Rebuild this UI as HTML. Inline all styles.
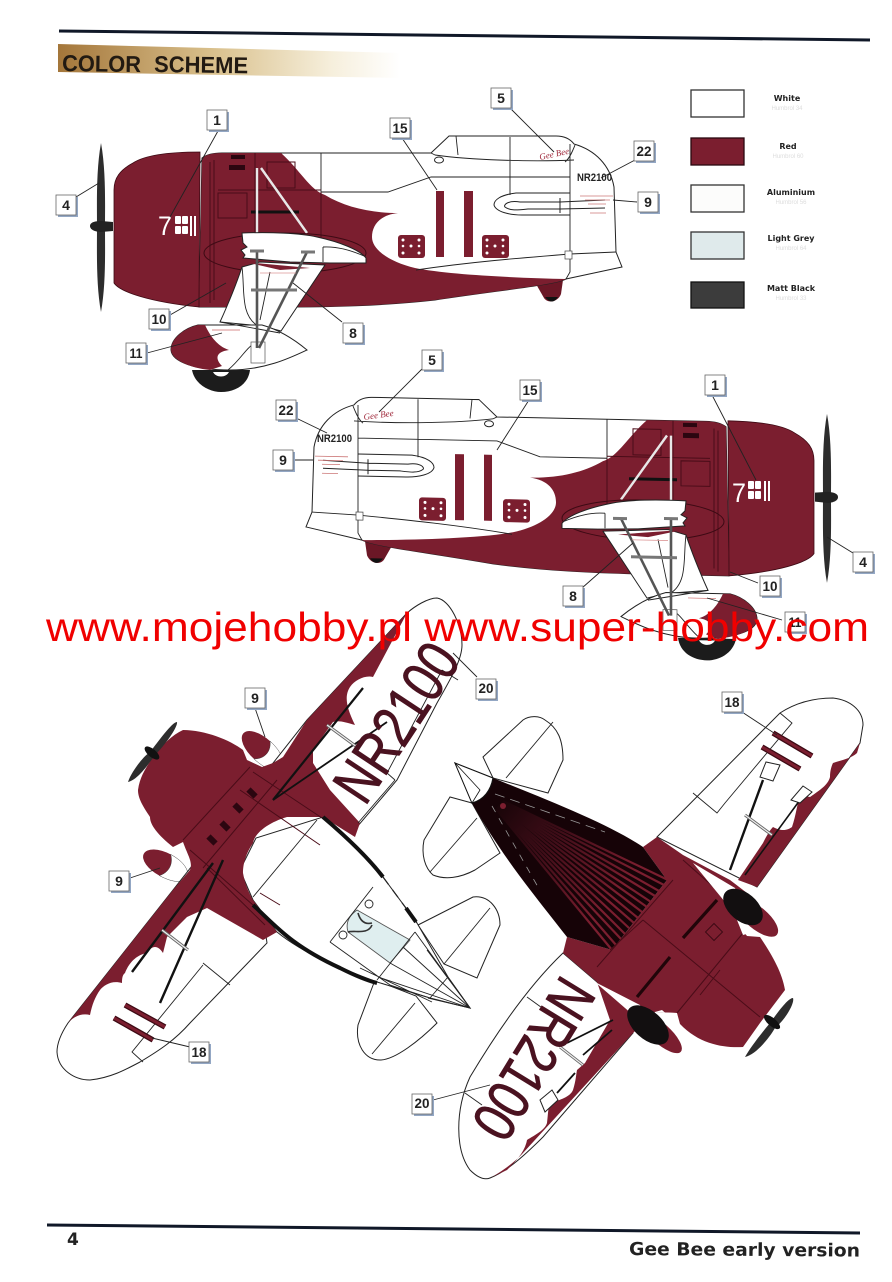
<!DOCTYPE html>
<html><head><meta charset="utf-8"><style>
html,body{margin:0;padding:0;background:#fff}
svg{display:block}
.n{font:14px "Liberation Sans",sans-serif;fill:#222;text-anchor:middle;font-weight:bold}
.lg{font:bold 8px "DejaVu Sans",sans-serif;fill:#222;text-anchor:middle}
.ls{font:6px "Liberation Sans",sans-serif;fill:#ddd;text-anchor:middle}
.l{stroke:#222;stroke-width:.9;fill:none}
.t{stroke:#222;stroke-width:1;fill:none}
.d{stroke:#4a0c18;stroke-width:1;fill:none}
.k{stroke:#111;fill:none}
.w{fill:#fff;stroke:#222;stroke-width:1}
.r{fill:#7b1e2f}
.reg{font-family:"Liberation Sans",sans-serif;fill:#4a1220;stroke:#4a1220;stroke-width:.8}
</style></head><body>
<svg width="892" height="1282" viewBox="0 0 892 1282" xmlns="http://www.w3.org/2000/svg">
<defs>
<linearGradient id="hb" x1="0" x2="1" y1="0" y2="0"><stop offset="0" stop-color="#a4763a"/><stop offset=".45" stop-color="#d9c08c"/><stop offset=".8" stop-color="#f6efdc"/><stop offset="1" stop-color="#fff"/></linearGradient>
<linearGradient id="fan" gradientUnits="userSpaceOnUse" x1="500" y1="805" x2="640" y2="920"><stop offset="0" stop-color="#1a0509"/><stop offset=".35" stop-color="#3f0d18"/><stop offset=".8" stop-color="#7b1e2f"/></linearGradient>
<g id="lb"><rect x="2" y="2" width="20" height="20" fill="#93a7c4"/><rect x="0" y="0" width="20" height="20" fill="#fff" stroke="#666" stroke-width=".8"/></g>
<g id="die"><rect x="0" y="0" width="27" height="23" rx="3" class="r"/><g fill="#fff"><circle cx="5" cy="5" r="1.5"/><circle cx="5" cy="18" r="1.5"/><circle cx="13" cy="11" r="1.5"/><circle cx="21" cy="5" r="1.5"/><circle cx="21" cy="18" r="1.5"/><circle cx="5" cy="11" r="1.3"/><circle cx="21" cy="11" r="1.3"/></g></g>
<g id="side">
 <path d="M101 143 C96 170 97 205 97 226 C97 250 96 285 101 312 C106 285 105 250 105 226 C105 205 106 170 101 143Z" fill="#2d2d2d"/>
 <path d="M90 226 C90 222 96 221 101 221 L113 222 L113 231 L101 232 C96 232 90 230 90 226Z" fill="#222"/>
 <path d="M536 284 L563 280 L561 294 C558 302 548 304 544 298 Z" fill="#6b1726"/><path d="M545 297 Q552 306 558 297 Z" fill="#111"/>
 <path class="w" d="M202 158 C206 155 212 153 222 153 L431 153 L449 136 L556 136 C566 136 571 140 574 144 C595 150 610 165 614 187 L616 252 L622 267 L566 279 C555 285 500 290 435 300 C380 306 330 307 280 307 L199 307 Z"/>
 <path class="r" d="M202 158 C206 155 212 153 222 153 L281 153 C300 170 310 190 325 195 C345 207 370 213 398 213 C380 215 372 225 372 237 C372 250 390 262 415 268 C450 275 520 278 566 279 C555 285 500 290 435 300 C380 306 330 307 280 307 L199 307 Z"/>
 <path class="r" stroke="#3d0a14" stroke-width=".8" d="M200 152 C170 152 145 155 133 163 C120 170 114 178 114 190 L114 283 C120 292 150 302 199 307 L199 297 L200 160Z"/>
 <path class="l" d="M321 153 V195 M321 192 H388 L431 177 H570 M510 137 V195 M431 153 L435 155 C470 160 530 162 574 160 M449 136 L456 136 L458 155 M570 144 V258 M575 145 C573 150 570 158 565 162 M416 270 C470 262 520 258 570 254 L616 252 M570 258 V272 L566 279"/>
 <rect x="574" y="254" width="7" height="8" fill="#fff" stroke="#444" stroke-width=".7" transform="translate(-9 -3)"/>
 <ellipse cx="439" cy="160" rx="4.5" ry="3" class="t" stroke-width=".7"/>
 <path class="d" d="M214 160 V300 M210 162 V303 M255 153 V232 M218 193 H247 V218 H218 Z M267 162 H295 V188 H267 Z M218 190 H321 M321 192 V262"/>
 <path d="M251 212 H299" stroke="#111" stroke-width="3"/>
 <g fill="#2b0610"><rect x="231" y="155" width="14" height="4"/><rect x="229" y="165" width="16" height="5"/></g>
 <path d="M257 168 V233 M261 168 L307 233" stroke="#e8e8e8" stroke-width="2.4"/>
 <ellipse cx="285" cy="253" rx="81" ry="20" fill="none" stroke="#3d0a14"/>
 <path d="M242 233 C270 232 300 233 317 237 C340 242 360 250 366 258 L366 263 L330 263 L290 262 L243 258 L245 255 L241 250 L247 247 L243 243 Z" class="w" stroke-width=".6"/>
 <path class="l" d="M323 247 C340 246 355 252 364 256 M323 247 V262"/>
 <path class="w" d="M242 267 L260 262 L325 265 L281 331 L262 326 L220 322 C230 300 236 285 242 267Z"/>
 <path class="l" d="M242 267 C245 290 240 315 258 326 M270 272 L260 320"/>
 <path d="M245 262 L310 268 L280 270Z" class="r"/>
 <path d="M192 370 C195 385 210 392 221 392 C235 392 248 385 250 370Z" fill="#1c1c1c"/>
 <path d="M213 372 C216 378 226 378 229 372Z" fill="#fff"/>
 <path class="w" d="M198 325 C185 328 171 338 171 350 C172 362 195 370 230 370 C265 370 290 358 307 350 C295 340 280 330 262 325 Z"/>
 <path class="r" d="M198 325 C185 328 171 338 171 350 C172 360 190 368 210 370 L222 366 C216 360 214 352 229 350 C220 347 212 340 205 325 Z"/>
 <path class="l" d="M228 370 C240 360 245 350 252 345 M220 322 L280 333"/>
 <rect x="251" y="342" width="14" height="21" fill="#fff" stroke="#555" stroke-width=".7"/>
 <path d="M257 250 V348 M307 252 L259 348" stroke="#555" stroke-width="2.6"/>
 <path d="M250 251 H264 M301 252 H315 M251 290 H297" stroke="#777" stroke-width="3"/>
 <rect x="436" y="191" width="8" height="66" class="r"/><rect x="464" y="191" width="9" height="66" class="r"/>
 <use href="#die" x="398" y="235"/><use href="#die" x="482" y="235"/>
 <path class="t" d="M570 193 H516 C500 195 494 200 494 205 C496 212 510 215 522 215 H570"/>
 <path class="t" d="M560 202 H520 C508 200 503 205 505 207 C510 211 518 210 528 209 H560 M560 198 V213 M560 202 L605 200 M560 209 L605 208"/>
 <path d="M580 196 H613 M585 200 H610 M588 204 H606 M590 213 H606" stroke="#c77" stroke-width=".8"/>
 <path d="M260 273 H296" stroke="#d99" stroke-width=".8"/><path d="M212 330 H240" stroke="#c66" stroke-width=".7"/>
</g>
</defs>
<rect width="892" height="1282" fill="#fff"/>

<path d="M59 31 L870 40" stroke="#101828" stroke-width="3"/>
<path d="M58 44 L400 53 L400 78 L58 72Z" fill="url(#hb)"/>
<g font-family="Liberation Sans,sans-serif" font-weight="bold" font-size="23" fill="#221a12">
<text x="62" y="71" textLength="79" lengthAdjust="spacingAndGlyphs" transform="rotate(.8 62 71)">COLOR</text>
<text x="154" y="72" textLength="94" lengthAdjust="spacingAndGlyphs" transform="rotate(.8 154 72)">SCHEME</text>
</g>

<g stroke-width="1.3">
<rect x="691" y="90" width="53" height="27" fill="#fff" stroke="#333"/>
<rect x="691" y="138" width="53" height="27" fill="#7b1e2f" stroke="#2a0810"/>
<rect x="691" y="185" width="53" height="27" fill="#fcfcfb" stroke="#333"/>
<rect x="691" y="232" width="53" height="27" fill="#dfeaeb" stroke="#333"/>
<rect x="691" y="282" width="53" height="26" fill="#3c3c3c" stroke="#111"/>
</g>
<text class="lg" x="787" y="101" font-size="7">White</text><text class="ls" x="787" y="110">Humbrol 34</text>
<text class="lg" x="788" y="149">Red</text><text class="ls" x="788" y="158">Humbrol 60</text>
<text class="lg" x="791" y="195">Aluminium</text><text class="ls" x="791" y="204">Humbrol 56</text>
<text class="lg" x="791" y="241">Light Grey</text><text class="ls" x="791" y="250">Humbrol 64</text>
<text class="lg" x="791" y="291">Matt Black</text><text class="ls" x="791" y="300">Humbrol 33</text>

<use href="#side"/>
<g font-family="Liberation Sans,sans-serif">
<text x="158" y="235" font-size="27" fill="#fff" textLength="14" lengthAdjust="spacingAndGlyphs">7</text>
<g fill="#fff"><rect x="175" y="216" width="6" height="8" rx="1"/><rect x="182" y="216" width="6" height="8" rx="1"/><rect x="175" y="226" width="6" height="8" rx="1"/><rect x="182" y="226" width="6" height="8" rx="1"/><rect x="190" y="216" width="2" height="20"/><rect x="194" y="216" width="2" height="20"/></g>
<text x="577" y="181" font-size="11" font-weight="bold" fill="#222" textLength="35" lengthAdjust="spacingAndGlyphs">NR2100</text>
<text x="540" y="160" font-size="9" font-family="Liberation Serif,serif" font-style="italic" fill="#a02a3c" transform="rotate(-12 540 160)">Gee Bee</text>
</g>

<use href="#side" transform="matrix(-1 -0.021 0 1 928 273)"/>
<g font-family="Liberation Sans,sans-serif">
<text x="732" y="502" font-size="27" fill="#fff" textLength="14" lengthAdjust="spacingAndGlyphs">7</text>
<g fill="#fff"><rect x="748" y="481" width="6" height="8" rx="1"/><rect x="755" y="481" width="6" height="8" rx="1"/><rect x="748" y="491" width="6" height="8" rx="1"/><rect x="755" y="491" width="6" height="8" rx="1"/><rect x="764" y="481" width="2" height="20"/><rect x="768" y="481" width="2" height="20"/></g>
<text x="317" y="442" font-size="11" font-weight="bold" fill="#222" textLength="35" lengthAdjust="spacingAndGlyphs">NR2100</text>
<text x="364" y="420" font-size="9" font-family="Liberation Serif,serif" font-style="italic" fill="#a02a3c" transform="rotate(-8 364 420)">Gee Bee</text>
</g>

<g id="top">
 <path class="w" d="M418 925 L473 897 C490 895 500 910 500 925 L477 978 L444 964 Z"/>
 <path class="l" d="M444 964 L490 908"/>
 <path class="w" d="M375 980 L358 1025 C355 1045 365 1060 380 1060 C395 1060 420 1040 437 1023 L416 996 Z"/>
 <path class="l" d="M372 1054 L415 1003"/>
 <g transform="rotate(42 262 750)"><ellipse cx="262" cy="750" rx="25" ry="12" class="r"/><path d="M262 738 C280 738 288 745 288 750 C288 757 280 762 262 762 C270 755 270 745 262 738Z" fill="#fff" stroke="#333" stroke-width=".4"/></g>
 <g transform="rotate(28 165 865)"><ellipse cx="165" cy="865" rx="24" ry="12" class="r"/><path d="M165 853 C182 853 190 860 190 865 C190 872 182 877 165 877 C172 870 172 860 165 853Z" fill="#fff" stroke="#333" stroke-width=".4"/></g>
 <path class="w" d="M57 1052 C58 1070 75 1080 90 1080 C110 1078 125 1070 140 1062 C160 1050 175 1040 190 1023 L267 943 L260 895 L320 820 L357 827 L397 780 L437 703 C450 680 462 660 462 645 C462 625 450 600 437 598 C428 598 415 606 407 613 L307 720 L173 890 L68 1023 C62 1032 57 1042 57 1052Z"/>
 <path class="w" d="M253 900 L240 870 L256 838 L323 817 C350 840 370 860 383 877 L417 923 L448 977 L470 1008 L430 998 L377 982 C345 970 305 955 277 932 Z" stroke="none"/>
 <path d="M445 973 L470 1008 L428 998" class="t" stroke-width=".9"/>
 <path fill="#dfeeef" stroke="#555" stroke-width=".9" d="M357 910 L410 940 L390 963 L348 932 C345 922 350 915 357 910Z"/>
 <circle cx="369" cy="904" r="4" class="l" stroke-width=".7"/><circle cx="343" cy="935" r="4" class="l" stroke-width=".7"/>
 <path d="M358 913 C360 920 364 925 372 923 M348 932 C355 930 368 935 372 925" fill="none" stroke="#333" stroke-width="1.6"/>
 <path class="l" d="M373 887 L330 942 M415 932 L377 980 M390 963 L470 1008 M378 977 L470 1008 M403 947 L470 1008 M415 932 L470 1008 M427 950 L470 1008 M330 942 L390 985 L430 998 M448 977 L430 998 M360 968 L432 1002"/>
 <path class="r" d="M183 730 C205 730 230 740 243 750 L247 760 L262 767 L273 763 L283 757 L307 720 L407 613 L373 677 C365 675 355 680 350 687 C345 695 345 705 355 725 C345 722 338 720 333 722 L313 750 L313 763 L330 790 L360 823 L355 837 L323 817 L287 817 C270 822 255 832 253 843 C245 855 243 865 243 873 C245 885 250 895 253 900 L277 932 L263 940 L207 908 L187 917 L167 937 L163 953 C158 945 152 945 147 953 C135 955 128 965 125 973 C122 975 122 980 122 983 C112 980 104 985 100 990 C95 997 92 1005 90 1015 C82 1013 74 1016 68 1023 L173 890 L190 870 C193 862 188 856 183 842 L173 847 C158 835 150 825 150 817 C142 805 138 798 138 790 C140 775 148 765 153 757 C162 745 172 735 183 730Z"/>
 <path class="d" d="M250 767 L183 840 M277 780 L203 868 M253 772 L340 830 M240 790 L320 845 M190 850 L253 905 M207 868 L265 925 M260 893 L280 905"/>
 <g fill="#2b0610"><rect x="247" y="790" width="10" height="6" transform="rotate(45 252 793)"/><rect x="233" y="805" width="10" height="6" transform="rotate(45 238 808)"/><rect x="220" y="823" width="10" height="6" transform="rotate(45 225 826)"/><rect x="207" y="837" width="10" height="6" transform="rotate(45 212 840)"/></g>
 <path class="l" d="M317 820 L253 897 M395 780 L358 823 M442 670 L458 680 M395 780 L387 773 L442 670 M203 963 L230 985 M203 965 L132 1052 L143 1062"/>
 <path d="M323 817 C350 840 370 860 383 877" fill="none" stroke="#111" stroke-width="4"/>
 <path d="M253 905 C275 925 290 945 340 968 C350 973 365 980 377 983" fill="none" stroke="#111" stroke-width="4"/>
 <path d="M383 877 L417 923" fill="none" stroke="#222" stroke-width="1.2" stroke-dasharray="9 7"/><path d="M406 908 L416 922" stroke="#111" stroke-width="4"/>
 <path d="M223 860 L160 1003 M213 863 L132 972" stroke="#111" stroke-width="2.4"/>
 <path d="M273 800 L363 688" stroke="#111" stroke-width="2.2"/><path d="M273 800 L387 722" stroke="#111" stroke-width="1.8"/>
 <path d="M162 930 L188 950 M327 725 L357 747" stroke="#666" stroke-width="3"/><path d="M162 930 L188 950 M327 725 L357 747" stroke="#eee" stroke-width="1.2"/>
 <path d="M125 1005 L165 1027 M114 1018 L153 1040" stroke="#3d0a14" stroke-width="5.5"/><path d="M125 1005 L165 1027 M114 1018 L153 1040" stroke="#7b1e2f" stroke-width="3"/>
 <path d="M128 782 C132 770 145 755 150 752 C158 742 172 722 177 722 C178 727 165 745 155 755 C150 762 138 780 128 782Z" fill="#2d2d2d"/><ellipse cx="152" cy="753" rx="4" ry="9" transform="rotate(-50 152 753)" fill="#111"/>
 <text class="reg" font-size="60" transform="translate(365 807) rotate(-56.5)" textLength="176" lengthAdjust="spacingAndGlyphs" x="0" y="0">NR2100</text>
</g>

<g id="bot">
 <path class="w" d="M483 757 L523 720 C530 715 540 716 545 720 C558 728 563 740 563 760 L548 793 L493 778 Z"/>
 <path class="l" d="M506 778 L553 722"/>
 <path class="w" d="M472 803 L450 797 L424 840 C421 855 425 868 433 875 C445 880 460 878 475 870 L500 853 Z"/>
 <path class="l" d="M430 872 L477 818"/>
 <path class="w" d="M657 837 L780 713 C800 700 820 698 833 698 C850 700 863 710 863 725 L860 743 L757 887 Z"/>
 <path class="w" d="M563 953 C540 975 510 1010 470 1077 C455 1110 455 1150 470 1170 C478 1178 485 1180 490 1178 C505 1172 520 1160 543 1137 L633 1033 L597 982 Z"/>
 <path class="l" d="M780 713 L792 723 L725 803 L717 813 L693 793 M465 1093 L482 1105 M527 997 L545 1010"/>
 <path class="r" d="M860 743 L757 887 L738 880 L763 843 C767 835 770 830 773 827 C782 832 788 830 792 827 C796 815 797 805 800 795 L810 797 C820 790 828 785 830 777 C830 770 832 765 833 763 C842 760 852 758 857 753Z"/>
 <path class="r" d="M633 1033 L523 1153 C515 1162 500 1173 490 1178 L507 1170 C515 1162 525 1152 527 1140 C535 1135 545 1130 547 1123 C548 1115 548 1108 550 1103 C560 1100 570 1097 573 1090 C576 1080 576 1075 577 1070 L585 1063 L610 1020 L597 982 L650 1000Z"/>
 <path class="r" d="M657 837 L683 855 L730 880 L747 893 L740 927 L747 936 L760 937 C772 955 782 972 785 990 L760 1023 L743 1047 C725 1048 700 1045 680 1024 L677 1013 L655 1012 L633 1033 L597 982 L563 953 L567 937 L612 950 L667 880 L643 847 Z"/>
 <path fill="#160307" d="M455 763 L493 778 C560 805 610 825 643 847 L667 880 L612 950 L567 937 C530 890 500 853 472 803 Z"/>
 <path stroke="url(#fan)" stroke-width="2.2" fill="none" d="M496 809L612 950M497 808L616 945M497 807L621 939M498 807L625 934M498 806L629 928M499 806L634 923M500 805L638 918M500 804L642 912M501 804L647 907M501 803L651 902M502 803L655 896M502 802L659 891M503 802L664 885M503 801L668 880"/>
 <path d="M495 794 L605 832" stroke="#999" stroke-width=".8" stroke-dasharray="10 6"/><path d="M492 806 L538 887" stroke="#999" stroke-width=".8" stroke-dasharray="7 7"/>
 <path d="M455 763 L493 778 C491 790 484 800 472 803 Z" fill="#fff" stroke="#111" stroke-width="1.2"/>
 <path d="M455 763 L472 803 L480 790Z" fill="#fff" stroke="#111" stroke-width=".8"/>
 <circle cx="503" cy="806" r="3" fill="#7b1e2f"/>
 <path class="d" stroke="#3d0a14" d="M643 920 L760 1017 M683 860 L743 913 M673 880 L597 967 M743 933 L677 1013 M720 970 L700 995 M610 950 L643 920"/>
 <path d="M717 900 L683 938 M670 957 L637 997" stroke="#200509" stroke-width="3.2"/>
 <rect x="708" y="926" width="12" height="12" fill="none" stroke="#3d0a14" transform="rotate(45 714 932)"/>
 <path d="M693 863 L735 888 L745 915 L725 902 Z" fill="#fff"/>
 <path d="M595 982 L640 1005 L650 1030 L625 1008 Z" fill="#fff"/>
 <path d="M745 895 L760 930 L743 935 L735 915Z" fill="#fff"/>
 <path d="M655 1012 L677 1013 L677 1023 L662 1010Z" fill="#fff"/>
 <ellipse cx="757" cy="918" rx="26" ry="11" transform="rotate(40 757 918)" class="r"/>
 <ellipse cx="743" cy="907" rx="23" ry="14" transform="rotate(40 743 907)" fill="#120f10"/>
 <ellipse cx="660" cy="1033" rx="28" ry="10" transform="rotate(42 660 1033)" class="r"/>
 <ellipse cx="648" cy="1025" rx="25" ry="14" transform="rotate(42 648 1025)" fill="#120f10"/>
 <path d="M730 870 L763 780" stroke="#111" stroke-width="2.4"/><path d="M745 875 L800 800" stroke="#111" stroke-width="1.6"/>
 <path d="M745 815 L772 835 M560 1047 L583 1065" stroke="#666" stroke-width="3"/><path d="M745 815 L772 835 M560 1047 L583 1065" stroke="#eee" stroke-width="1.2"/>
 <path d="M567 1043 L613 1020 M583 1055 L612 1030 M557 1093 L575 1073" stroke="#111" stroke-width="1.8"/>
 <path class="w" d="M760 777 L766 762 L780 765 L773 781Z M791 800 L803 786 L812 792 L800 803Z M540 1100 L552 1090 L558 1100 L545 1112Z" stroke-width=".7"/>
 <path d="M773 733 L812 756 M762 747 L800 769" stroke="#3d0a14" stroke-width="5.5"/><path d="M773 733 L812 756 M762 747 L800 769" stroke="#7b1e2f" stroke-width="3"/>
 <path d="M745 1057 C750 1048 760 1035 770 1023 C778 1012 788 998 793 998 C795 1003 785 1020 775 1028 C768 1040 755 1055 745 1057Z" fill="#2d2d2d"/><ellipse cx="772" cy="1022" rx="4" ry="10" transform="rotate(-50 772 1022)" fill="#111"/>
 <text class="reg" font-size="60" transform="translate(562 973) rotate(121.5)" textLength="176" lengthAdjust="spacingAndGlyphs" x="0" y="0">NR2100</text>
</g>

<path class="l" stroke-width="1" d="M218 131 L170 217 M510 108 L554 152 M402 138 L437 190 M635 160 L601 178 M76 197 L99 183 M637 202 L613 200 M170 315 L226 283 M342 322 L293 283 M147 353 L222 333
M422 369 L379 412 M529 400 L497 450 M712 395 L756 480 M296 418 L327 433 M294 460 L313 460 M853 553 L827 537 M758 583 L730 572 M582 588 L633 543 M782 620 L707 598
M255 708 L265 737 M130 878 L160 868 M190 1047 L152 1038 M477 677 L453 653 M742 712 L777 735 M433 1100 L490 1085"/>

<use href="#lb" x="207" y="110"/><text class="n" x="217" y="125">1</text>
<use href="#lb" x="491" y="88"/><text class="n" x="501" y="103">5</text>
<use href="#lb" x="390" y="118"/><text class="n" x="400" y="133" textLength="15" lengthAdjust="spacingAndGlyphs">15</text>
<use href="#lb" x="634" y="141"/><text class="n" x="644" y="156" textLength="15" lengthAdjust="spacingAndGlyphs">22</text>
<use href="#lb" x="56" y="195"/><text class="n" x="66" y="210">4</text>
<use href="#lb" x="638" y="192"/><text class="n" x="648" y="207">9</text>
<use href="#lb" x="149" y="309"/><text class="n" x="159" y="324" textLength="15" lengthAdjust="spacingAndGlyphs">10</text>
<use href="#lb" x="343" y="323"/><text class="n" x="353" y="338">8</text>
<use href="#lb" x="126" y="343"/><text class="n" x="136" y="358" textLength="13" lengthAdjust="spacingAndGlyphs">11</text>
<use href="#lb" x="422" y="350"/><text class="n" x="432" y="365">5</text>
<use href="#lb" x="520" y="380"/><text class="n" x="530" y="395" textLength="15" lengthAdjust="spacingAndGlyphs">15</text>
<use href="#lb" x="705" y="375"/><text class="n" x="715" y="390">1</text>
<use href="#lb" x="276" y="400"/><text class="n" x="286" y="415" textLength="15" lengthAdjust="spacingAndGlyphs">22</text>
<use href="#lb" x="273" y="450"/><text class="n" x="283" y="465">9</text>
<use href="#lb" x="853" y="552"/><text class="n" x="863" y="567">4</text>
<use href="#lb" x="760" y="576"/><text class="n" x="770" y="591" textLength="15" lengthAdjust="spacingAndGlyphs">10</text>
<use href="#lb" x="563" y="586"/><text class="n" x="573" y="601">8</text>
<use href="#lb" x="785" y="612"/><text class="n" x="795" y="627" textLength="13" lengthAdjust="spacingAndGlyphs">11</text>
<use href="#lb" x="476" y="679"/><text class="n" x="486" y="693" textLength="15" lengthAdjust="spacingAndGlyphs">20</text>
<use href="#lb" x="245" y="688"/><text class="n" x="255" y="703">9</text>
<use href="#lb" x="109" y="871"/><text class="n" x="119" y="886">9</text>
<use href="#lb" x="189" y="1042"/><text class="n" x="199" y="1057" textLength="15" lengthAdjust="spacingAndGlyphs">18</text>
<use href="#lb" x="722" y="692"/><text class="n" x="732" y="707" textLength="15" lengthAdjust="spacingAndGlyphs">18</text>
<use href="#lb" x="412" y="1094"/><text class="n" x="422" y="1108" textLength="15" lengthAdjust="spacingAndGlyphs">20</text>

<text x="46" y="641" font-family="Liberation Sans,sans-serif" font-size="41" fill="#f00000" textLength="823" lengthAdjust="spacingAndGlyphs">www.mojehobby.pl www.super-hobby.com</text>

<path d="M47 1225 L860 1233" stroke="#101828" stroke-width="3"/>
<text x="67" y="1245" font-family="DejaVu Sans,sans-serif" font-weight="bold" font-size="17" fill="#222">4</text>
<text x="629" y="1255" font-family="DejaVu Sans,sans-serif" font-weight="bold" font-size="18" fill="#222" textLength="231" lengthAdjust="spacingAndGlyphs" transform="rotate(.4 629 1255)">Gee Bee early version</text>
</svg>
</body></html>
